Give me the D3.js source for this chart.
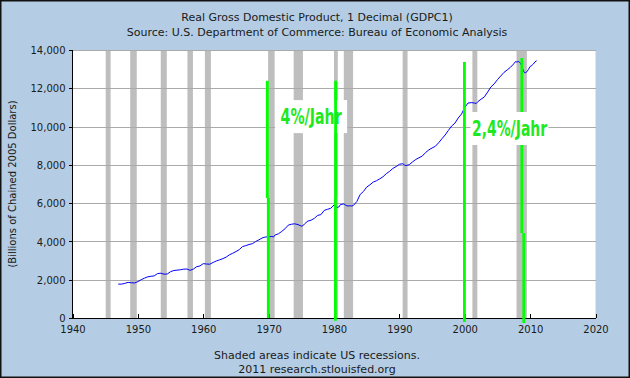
<!DOCTYPE html>
<html><head><meta charset="utf-8">
<script src="https://cdn.jsdelivr.net/npm/d3@7"></script>
<style>
html,body{margin:0;padding:0;background:#fff;}
svg{display:block;}
text{font-family:"DejaVu Sans",Verdana,sans-serif;fill:#1a1a1a;}
</style></head>
<body>
<svg id="c" width="630" height="378"></svg>
<script>
// ---- data ----
const titleLines = ["Real Gross Domestic Product, 1 Decimal (GDPC1)",
  "Source: U.S. Department of Commerce: Bureau of Economic Analysis"];
const yAxisLabel = "(Billions of Chained 2005 Dollars)";
const footerLines = ["Shaded areas indicate US recessions.", "2011 research.stlouisfed.org"];
const xTicks = [1940,1950,1960,1970,1980,1990,2000,2010,2020];
const yTicks = [0,2000,4000,6000,8000,10000,12000,14000];
const years = [1947.0,1947.5,1948.0,1948.5,1949.0,1949.5,1950.0,1950.5,1951.0,1951.5,1952.0,1952.5,
 1953.0,1953.5,1954.0,1954.5,1955.0,1955.5,1956.0,1956.5,1957.0,1957.5,1958.0,1958.5,1959.0,1959.5,
 1960.0,1960.5,1961.0,1961.5,1962.0,1962.5,1963.0,1963.5,1964.0,1964.5,1965.0,1965.5,1966.0,1966.5,
 1967.0,1967.5,1968.0,1968.5,1969.0,1969.5,1970.0,1970.5,1970.75,1971.0,1971.5,1972.0,1972.5,1973.0,
 1973.5,1974.0,1974.5,1975.0,1975.25,1975.5,1976.0,1976.5,1977.0,1977.5,1978.0,1978.5,1979.0,1979.5,
 1980.0,1980.5,1980.75,1981.0,1981.5,1982.0,1982.5,1982.75,1983.0,1983.5,1984.0,1984.5,1985.0,1985.5,
 1986.0,1986.5,1987.0,1987.5,1988.0,1988.5,1989.0,1989.5,1990.0,1990.5,1990.75,1991.0,1991.5,1992.0,
 1992.5,1993.0,1993.5,1994.0,1994.5,1995.0,1995.5,1996.0,1996.5,1997.0,1997.5,1998.0,1998.5,1999.0,
 1999.5,2000.0,2000.5,2001.0,2001.5,2001.75,2002.0,2002.5,2003.0,2003.5,2004.0,2004.5,2005.0,2005.5,
 2006.0,2006.5,2007.0,2007.5,2007.75,2008.0,2008.25,2008.5,2008.75,2009.0,2009.25,2009.5,2009.75,
 2010.0,2010.25,2010.5,2010.75,2011.0];
const gdp = [1772,1770,1810,1860,1840,1830,1900,2000,2080,2150,2180,2200,
 2320,2340,2290,2300,2420,2480,2500,2520,2550,2560,2490,2560,2680,2720,
 2840,2820,2810,2900,2980,3040,3100,3180,3300,3380,3470,3570,3730,3780,
 3840,3880,3990,4080,4180,4230,4240,4260,4230,4340,4400,4520,4660,4850,
 4900,4920,4880,4800,4820,4920,5060,5110,5210,5360,5400,5620,5680,5730,
 5900,5780,5800,5930,5960,5850,5860,5850,5890,6090,6450,6610,6840,6960,
 7100,7170,7270,7380,7540,7660,7810,7910,8030,8060,8000,7960,8010,8150,
 8280,8370,8460,8640,8780,8880,8970,9150,9360,9560,9800,10030,10180,10450,
 10650,11000,11230,11250,11230,11200,11300,11430,11550,11800,12070,12230,12450,12640,
 12830,12960,13100,13280,13390,13370,13410,13320,13140,12870,12810,12860,12990,
 13140,13190,13270,13380,13440];
const recessionStart = [1945.08,1948.83,1953.5,1957.58,1960.25,1969.92,1973.83,1980.0,1981.5,1990.5,2001.17,2007.92];
const recessionEnd   = [1945.83,1949.83,1954.42,1958.42,1961.17,1970.92,1975.25,1980.58,1982.92,1991.25,2001.92,2009.5];
// hand-drawn green markers
const markerUpperYear = [1969.80,1980.24,1999.95,2008.73];
const markerLowerYear = [1969.95,1980.22,1999.95,2009.03];
const markerTop    = [12400,12400,13370,13580];
const markerKink   = [6270,6270,6270,4440];
const markerBottom = [0,-150,-210,-260];
const labelText  = ["4%/Jahr","2,4%/Jahr"];
const labelYear  = [1976.5,2006.85];
const labelValue = [10520,9900];

// ---- drawing ----
const svg = d3.select("#c");
const W=630,H=378;
svg.append("rect").attr("x",0.75).attr("y",0.75).attr("width",W-1.5).attr("height",H-1.5)
  .attr("fill","#b4cde4").attr("stroke","#111").attr("stroke-width",1.5);

const x = d3.scaleLinear().domain([1940,2020]).range([72.5,595.5]);
const y = d3.scaleLinear().domain([0,14000]).range([318,50]);

svg.append("rect").attr("x",x(1940)).attr("y",y(14000))
  .attr("width",x(2020)-x(1940)).attr("height",y(0)-y(14000)).attr("fill","#fff");

// recessions
svg.append("g").selectAll("rect").data(recessionStart).join("rect")
  .attr("x",(d)=>x(d)).attr("y",y(14000))
  .attr("width",(d,i)=>x(recessionEnd[i])-x(d)).attr("height",y(0)-y(14000))
  .attr("fill","#bebebe");

// gridlines
const grid = svg.append("g").attr("transform",`translate(${x(1940)},0)`)
  .call(d3.axisLeft(y).tickValues(yTicks.slice(1)).tickSize(-(x(2020)-x(1940))).tickFormat(""));
grid.select(".domain").remove();
grid.selectAll("line").attr("stroke","#aaaaaa").attr("shape-rendering","crispEdges");

// series line
svg.append("path").datum(years)
  .attr("fill","none").attr("stroke","#0000ff").attr("stroke-width",1)
  .attr("d",d3.line().x(d=>x(d)).y((d,i)=>y(gdp[i])));

// axes
const ya = svg.append("g").attr("transform",`translate(${x(1940)},0)`)
  .call(d3.axisLeft(y).tickValues(yTicks).tickSize(4).tickPadding(3).tickFormat(d3.format(",")));
ya.select(".domain").attr("stroke","#000").attr("d",`M0,${y(14000)}V${y(0)}`).attr("shape-rendering","crispEdges");
ya.selectAll(".tick line").attr("stroke","#000").attr("shape-rendering","crispEdges");
ya.selectAll(".tick text").attr("font-family","DejaVu Sans").attr("font-size",10).attr("fill","#1a1a1a").attr("dy","0.36em");

const xa = svg.append("g").attr("transform",`translate(0,${y(0)})`)
  .call(d3.axisBottom(x).tickValues(xTicks).tickSize(-4).tickPadding(8).tickFormat(d3.format("d")));
xa.select(".domain").attr("stroke","#000").attr("d",`M${x(1940)},0H${x(2020)}`).attr("shape-rendering","crispEdges");
xa.selectAll(".tick line").attr("stroke","#000").attr("shape-rendering","crispEdges");
xa.selectAll(".tick text").attr("font-family","DejaVu Sans").attr("font-size",10).attr("fill","#1a1a1a");

// label 1 box (under marker lines)
{
  const i=0, cx=x(labelYear[i]), cy=y(labelValue[i]);
  svg.append("rect").attr("x",cx-36).attr("y",cy-16.5).attr("width",72).attr("height",33).attr("fill","#fff");
}
const mk = svg.append("g").attr("stroke","#00ff00").attr("stroke-width",2.8).attr("fill","none");
markerTop.forEach((t,i)=>{
  mk.append("path").attr("d",
    `M${x(markerUpperYear[i])},${y(t)}V${y(markerKink[i])}M${x(markerLowerYear[i])},${y(markerKink[i])}V${y(markerBottom[i])}`);
});
// label 2 box covers the 2008 marker
{
  const i=1, cx=x(labelYear[i]), cy=y(labelValue[i]);
  svg.append("rect").attr("x",cx-39).attr("y",cy-16.5).attr("width",78).attr("height",33).attr("fill","#fff");
}
const lw = [61,75];
labelText.forEach((t,i)=>{
  svg.append("text").attr("x",x(labelYear[i])).attr("y",y(labelValue[i])+7.5)
    .attr("text-anchor","middle").attr("font-size",22).attr("font-weight","bold")
    .attr("font-family","'Liberation Sans Narrow','Liberation Sans',Arial,sans-serif")
    .attr("textLength",lw[i]).attr("lengthAdjust","spacingAndGlyphs")
    .style("fill","#1ee81e").text(t);
});

// titles
svg.append("g").selectAll("text").data(titleLines).join("text")
  .attr("x",317).attr("y",(d,i)=>20.5+i*15.5).attr("text-anchor","middle").attr("font-size",11).text(d=>d);
svg.append("g").selectAll("text").data(footerLines).join("text")
  .attr("x",317).attr("y",(d,i)=>359+i*13.5).attr("text-anchor","middle").attr("font-size",11).text(d=>d);
svg.append("text").attr("transform",`translate(16,${(y(0)+y(14000))/2}) rotate(-90)`)
  .attr("text-anchor","middle").attr("font-size",10).text(yAxisLabel);
</script>
</body></html>
